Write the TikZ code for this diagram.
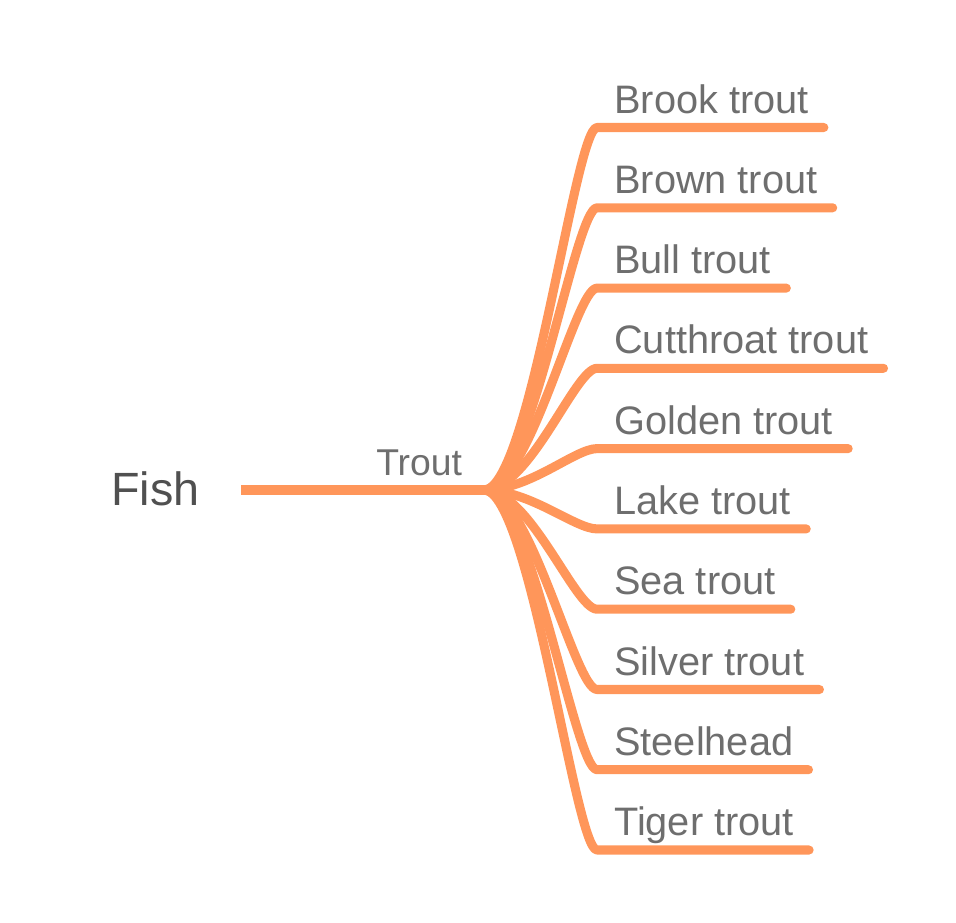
\documentclass[tikz,border=0pt]{standalone}
\usepackage{fontspec}
\setmainfont{Liberation Sans}
\usetikzlibrary{calc}
\definecolor{branchorange}{RGB}{255,150,90}
\definecolor{rootgray}{RGB}{80,80,80}
\definecolor{leafgray}{RGB}{110,110,110}
\tikzset{
  rootlabel/.style={anchor=base west, inner sep=0pt, text=rootgray, font=\fontsize{35}{40}\selectfont},
  midlabel/.style={anchor=base west, inner sep=0pt, text=leafgray, font=\fontsize{28}{32}\selectfont},
  leaflabel/.style={anchor=base west, inner sep=0pt, text=leafgray, font=\fontsize{29.8}{35}\selectfont},
  trunkline/.style={draw=branchorange, line width=8pt},
  branchline/.style={draw=branchorange, line width=6.8pt, line cap=round, line join=round}
}
\begin{document}
\begin{tikzpicture}[x=0.75pt, y=-0.75pt]
\useasboundingbox (0,0) rectangle (956,922);
% root and first level
\node[rootlabel] (fish) at (111,505) {Fish};
\node[midlabel] (trout) at (376,475) {Trout};
\coordinate (trunkstart) at (241,490);
\coordinate (hub) at (484,490);
\draw[trunkline] (trunkstart) -- (hub);
% leaves
\node[leaflabel] (brook) at (614,113) {Brook trout};
\node[leaflabel] (brown) at (614,193.3) {Brown trout};
\node[leaflabel] (bull) at (614,273.6) {Bull trout};
\node[leaflabel] (cutthroat) at (614,353.8) {Cutthroat trout};
\node[leaflabel] (golden) at (614,434.1) {Golden trout};
\node[leaflabel] (lake) at (614,514.4) {Lake trout};
\node[leaflabel] (sea) at (614,594.7) {Sea trout};
\node[leaflabel] (silver) at (614,675) {Silver trout};
\node[leaflabel] (steelhead) at (614,755.2) {Steelhead};
\node[leaflabel] (tiger) at (614,835.5) {Tiger trout};
\coordinate (brookknee) at (597,127.5);
\coordinate (brownknee) at (597,207.8);
\coordinate (bullknee) at (597,288.1);
\coordinate (cutthroatknee) at (597,368.3);
\coordinate (goldenknee) at (597,448.6);
\coordinate (lakeknee) at (597,528.9);
\coordinate (seaknee) at (597,609.2);
\coordinate (silverknee) at (597,689.5);
\coordinate (steelheadknee) at (597,769.7);
\coordinate (tigerknee) at (597,850);
\draw[branchline] (hub) .. controls +(46,0) and +(-22,0) .. (brookknee) -- ($(brookknee -| brook.east)+(15,0)$);
\draw[branchline] (hub) .. controls +(46,0) and +(-22,0) .. (brownknee) -- ($(brownknee -| brown.east)+(15,0)$);
\draw[branchline] (hub) .. controls +(46,0) and +(-22,0) .. (bullknee) -- ($(bullknee -| bull.east)+(15,0)$);
\draw[branchline] (hub) .. controls +(46,0) and +(-22,0) .. (cutthroatknee) -- ($(cutthroatknee -| cutthroat.east)+(15,0)$);
\draw[branchline] (hub) .. controls +(46,0) and +(-22,0) .. (goldenknee) -- ($(goldenknee -| golden.east)+(15,0)$);
\draw[branchline] (hub) .. controls +(46,0) and +(-22,0) .. (lakeknee) -- ($(lakeknee -| lake.east)+(15,0)$);
\draw[branchline] (hub) .. controls +(46,0) and +(-22,0) .. (seaknee) -- ($(seaknee -| sea.east)+(15,0)$);
\draw[branchline] (hub) .. controls +(46,0) and +(-22,0) .. (silverknee) -- ($(silverknee -| silver.east)+(15,0)$);
\draw[branchline] (hub) .. controls +(46,0) and +(-22,0) .. (steelheadknee) -- ($(steelheadknee -| steelhead.east)+(15,0)$);
\draw[branchline] (hub) .. controls +(46,0) and +(-22,0) .. (tigerknee) -- ($(tigerknee -| tiger.east)+(15,0)$);
\end{tikzpicture}
\end{document}
